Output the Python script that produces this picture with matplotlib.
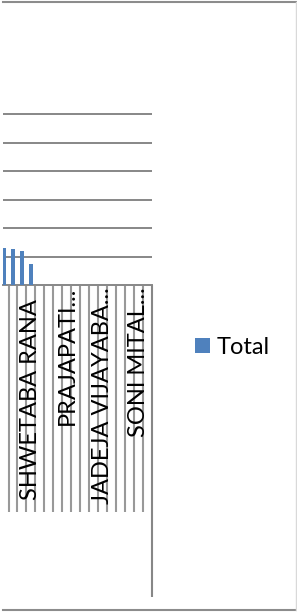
import numpy as np
import matplotlib
matplotlib.use("Agg")
import matplotlib.pyplot as plt
from matplotlib import transforms
from matplotlib.lines import Line2D

# data
n_categories = 17
bar_pos = [0, 1, 2, 3]
totals = [13.0, 12.6, 11.9, 7.4]
label_pos = [-1, 3, 7, 11, 15]
label_text = ["CHAUHAN KINJALBA...", "SHWETABA RANA  ", "PRAJAPATI...",
              "JADEJA VIJAYABA...", "SONI MITAL..."]
grid_ticks = [10, 20, 30, 40, 50, 60]

W, H = 297, 612
def fx(px):
    return px / W
def fy(py):
    return 1 - py / H

FONT = "Lato"
FS = 17
GRAY = "#878787"

fig = plt.figure(figsize=(W / 100, H / 100), dpi=100)

# plot area: 9 px per category
ppu = 171 / 60
ax = fig.add_axes([fx(3), fy(285), (152.5 - 3) / W, 60.5 * ppu / H])
ax.bar(bar_pos, totals, width=0.45, color="#4F81BD", label="Total", zorder=3)
ax.set_xlim(-1 / 9, n_categories - 0.5)
ax.set_ylim(0, 60.5)
ax.set_yticks(grid_ticks)
ax.yaxis.grid(True, color=GRAY, lw=1.4)
ax.set_axisbelow(True)
ax.tick_params(left=False, labelleft=False, bottom=False, labelbottom=False)
for s in ["top", "right", "left"]:
    ax.spines[s].set_visible(False)
ax.spines["bottom"].set_color(GRAY)
ax.spines["bottom"].set_linewidth(1.4)

trans = transforms.blended_transform_factory(ax.transData, fig.transFigure)
bounds = np.arange(n_categories - 1) + 0.5
ax.vlines(bounds, fy(512), fy(286), transform=trans, colors="#999999",
          lw=1.5, clip_on=False)
ax.vlines([n_categories - 0.5], fy(597), fy(285), transform=trans,
          colors=GRAY, lw=1.5, clip_on=False)

for pos, name in zip(label_pos, label_text):
    ax.text(pos, fy(287), name, rotation=90, ha="center", va="top",
            transform=trans, fontsize=FS, family=FONT, clip_on=False)

handles, labels = ax.get_legend_handles_labels()
fig.legend(handles, labels, loc="center left",
           bbox_to_anchor=(fx(195), fy(347)), frameon=False,
           handlelength=0.62, handleheight=0.62, handletextpad=0.3,
           borderpad=0, borderaxespad=0, prop={"family": FONT, "size": FS})

# chart border
fig.add_artist(Line2D([fx(3), 1], [fy(2), fy(2)], color="#8c8c8c", lw=1.5))
fig.add_artist(Line2D([fx(3), 1], [fy(610), fy(610)], color="#8c8c8c", lw=1.5))
fig.add_artist(Line2D([fx(296), fx(296)], [fy(2), fy(610)], color="#d9d9d9", lw=1))

fig.savefig("out.png", dpi=100)
